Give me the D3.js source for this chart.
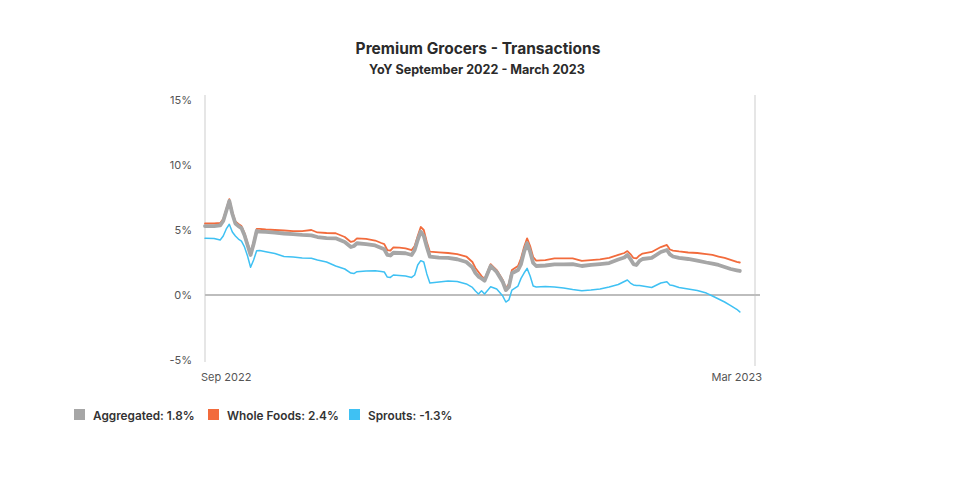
<!DOCTYPE html>
<html><head><meta charset="utf-8">
<script src="https://cdn.jsdelivr.net/npm/d3@7"></script>
<style>
html,body{margin:0;padding:0;background:#fff;}
svg{display:block;font-family:Inter, "Open Sans", sans-serif;}
</style></head>
<body>
<svg id="chart" width="957" height="479"></svg>
<script>
const title = "Premium Grocers - Transactions";
const subtitle = "YoY September 2022 - March 2023";
const seriesNames = ["Aggregated", "Whole Foods", "Sprouts"];
const legendLabels = ["Aggregated: 1.8%", "Whole Foods: 2.4%", "Sprouts: -1.3%"];
const seriesColors = ["#a6a6a6", "#f26b3c", "#3fc1f3"];
const yTicks = [-5, 0, 5, 10, 15];
const xTickDates = ["2022-09-01", "2023-03-01"];
const xTickLabels = ["Sep 2022", "Mar 2023"];

const dates = ["2022-09-01","2022-09-04","2022-09-06","2022-09-07","2022-09-08","2022-09-09","2022-09-10","2022-09-11","2022-09-12","2022-09-13",
"2022-09-14","2022-09-15","2022-09-16","2022-09-17","2022-09-18","2022-09-19","2022-09-21","2022-09-24","2022-09-27","2022-09-30",
"2022-10-03","2022-10-06","2022-10-08","2022-10-11","2022-10-14","2022-10-17","2022-10-19","2022-10-20","2022-10-21","2022-10-24",
"2022-10-27","2022-10-29","2022-10-30","2022-10-31","2022-11-01","2022-11-02","2022-11-04","2022-11-06","2022-11-08","2022-11-09",
"2022-11-10","2022-11-11","2022-11-12","2022-11-13","2022-11-14","2022-11-17","2022-11-20","2022-11-23","2022-11-26","2022-11-28",
"2022-11-29","2022-11-30","2022-12-01","2022-12-02","2022-12-04","2022-12-06","2022-12-08","2022-12-09","2022-12-10","2022-12-11",
"2022-12-13","2022-12-14","2022-12-15","2022-12-16","2022-12-17","2022-12-18","2022-12-19","2022-12-22","2022-12-25","2022-12-28",
"2022-12-31","2023-01-03","2023-01-06","2023-01-09","2023-01-12","2023-01-15","2023-01-17","2023-01-18","2023-01-19","2023-01-20",
"2023-01-21","2023-01-22","2023-01-23","2023-01-26","2023-01-29","2023-01-31","2023-02-01","2023-02-02","2023-02-04","2023-02-07",
"2023-02-10","2023-02-13","2023-02-15","2023-02-17","2023-02-19","2023-02-21","2023-02-23","2023-02-24"];

const aggregated = [5.3,5.3,5.35,5.69,6.46,7.23,6.23,5.5,5.3,5.15,
4.6,3.85,3.08,3.92,4.92,4.88,4.85,4.8,4.73,4.69,
4.62,4.58,4.46,4.38,4.36,4.08,3.69,3.77,3.98,3.92,
3.81,3.62,3.52,3.08,3.04,3.25,3.23,3.21,3.08,3.46,
4.23,4.87,4.54,3.69,2.95,2.87,2.85,2.75,2.54,2.12,
1.69,1.42,1.27,1.1,2.23,1.77,1.0,0.38,0.62,1.67,
1.92,2.38,3.31,3.98,3.31,2.46,2.23,2.27,2.35,2.36,
2.38,2.23,2.31,2.38,2.46,2.73,2.88,3.08,2.77,2.38,
2.31,2.62,2.77,2.85,3.31,3.46,3.12,2.96,2.85,2.77,
2.65,2.5,2.42,2.31,2.15,2.0,1.9,1.85];

const wholeFoods = [5.5,5.5,5.54,5.85,6.6,7.38,6.38,5.65,5.46,5.3,
4.77,4.0,3.23,4.08,5.08,5.08,5.04,5.0,4.96,4.92,
4.92,5.0,4.81,4.77,4.75,4.46,4.08,4.15,4.36,4.31,
4.19,4.0,3.92,3.46,3.42,3.67,3.65,3.59,3.46,3.77,
4.54,5.23,5.0,4.08,3.33,3.28,3.23,3.15,2.96,2.54,
2.08,1.77,1.46,1.23,2.38,1.92,1.15,0.54,0.85,1.92,
2.23,2.82,3.69,4.36,3.77,2.92,2.64,2.69,2.81,2.82,
2.82,2.62,2.69,2.74,2.85,3.08,3.23,3.38,3.15,2.85,
2.81,3.04,3.19,3.31,3.69,3.85,3.5,3.42,3.35,3.27,
3.23,3.15,3.08,2.96,2.85,2.7,2.55,2.5];

const sprouts = [4.36,4.35,4.23,4.54,5.08,5.44,4.85,4.54,4.3,4.15,
3.7,3.0,2.13,2.69,3.41,3.42,3.33,3.19,2.96,2.92,
2.85,2.82,2.69,2.54,2.23,2.0,1.69,1.65,1.79,1.85,
1.87,1.81,1.77,1.38,1.35,1.54,1.5,1.46,1.35,1.54,
2.31,2.64,2.54,1.62,0.92,1.0,1.08,1.04,0.85,0.58,
0.31,0.08,0.33,0.08,0.64,0.46,-0.08,-0.54,-0.38,0.38,
0.69,1.28,1.69,2.05,1.46,0.69,0.62,0.65,0.62,0.54,
0.42,0.33,0.38,0.46,0.62,0.81,1.04,1.15,0.92,0.77,
0.73,0.73,0.69,0.58,0.92,1.02,0.77,0.73,0.58,0.46,
0.35,0.15,-0.08,-0.31,-0.54,-0.81,-1.1,-1.3];

const parse = d3.timeParse("%Y-%m-%d");
const svg = d3.select("#chart");

const x = d3.scaleTime().domain([parse(xTickDates[0]), parse(xTickDates[1])]).range([205, 755]);
const y = d3.scaleLinear().domain([-5, 15]).range([360, 100]);

// titles
svg.append("text").attr("x", 478).attr("y", 54).attr("text-anchor", "middle")
  .attr("font-size", 15.5).attr("font-weight", 700).attr("fill", "#2b2b2b").text(title);
svg.append("text").attr("x", 477).attr("y", 74).attr("text-anchor", "middle")
  .attr("font-size", 12.6).attr("font-weight", 700).attr("fill", "#2b2b2b").text(subtitle);

// vertical gridlines
svg.selectAll("line.vgrid").data(xTickDates).enter().append("line")
  .attr("class", "vgrid")
  .attr("x1", d => x(parse(d))).attr("x2", d => x(parse(d)))
  .attr("y1", 95).attr("y2", (d, i) => i === 0 ? 362 : 366)
  .attr("stroke", "#dedede").attr("stroke-width", 1.5);

// zero line
svg.append("line").attr("x1", 205).attr("x2", 760).attr("y1", y(0)).attr("y2", y(0))
  .attr("stroke", "#bdbdbd").attr("stroke-width", 2);

// y axis labels
const yAxis = d3.axisLeft(y).tickValues(yTicks).tickSize(0).tickPadding(0).tickFormat(d => d + "%");
const gy = svg.append("g").attr("transform", "translate(192,0)").call(yAxis);
gy.select(".domain").remove();
gy.selectAll("text").attr("font-size", 11).attr("fill", "#555").attr("font-family", "Inter, 'Open Sans', sans-serif");

// x axis labels
const anchors = ["start", "end"];
const offs = [-4, 7];
svg.selectAll("text.xlab").data(xTickDates).enter().append("text")
  .attr("class", "xlab")
  .attr("x", (d, i) => x(parse(d)) + offs[i]).attr("y", 381)
  .attr("text-anchor", (d, i) => anchors[i])
  .attr("font-size", 11).attr("fill", "#555").text((d, i) => xTickLabels[i]);

// lines
const series = [
  {name: seriesNames[1], values: wholeFoods, color: seriesColors[1], width: 1.8},
  {name: seriesNames[0], values: aggregated, color: seriesColors[0], width: 3.8},
  {name: seriesNames[2], values: sprouts, color: seriesColors[2], width: 1.5}
];
const line = d3.line().x(d => x(d.date)).y(d => y(d.v)).curve(d3.curveLinear);
series.forEach(s => {
  const pts = dates.map((d, i) => ({date: parse(d), v: s.values[i]}));
  svg.append("path").datum(pts).attr("d", line)
    .attr("fill", "none").attr("stroke", s.color).attr("stroke-width", s.width)
    .attr("stroke-linejoin", "round").attr("stroke-linecap", "round");
});

// legend
const legX = [74, 208, 349];
const lg = svg.selectAll("g.leg").data(legendLabels).enter().append("g")
  .attr("class", "leg").attr("transform", (d, i) => `translate(${legX[i]},409)`);
lg.append("rect").attr("width", 11).attr("height", 11).attr("fill", (d, i) => seriesColors[i]);
lg.append("text").attr("x", 19).attr("y", 10.5).attr("font-size", 11.8).attr("font-weight", 600)
  .attr("fill", "#333").text(d => d);
</script>
</body></html>
